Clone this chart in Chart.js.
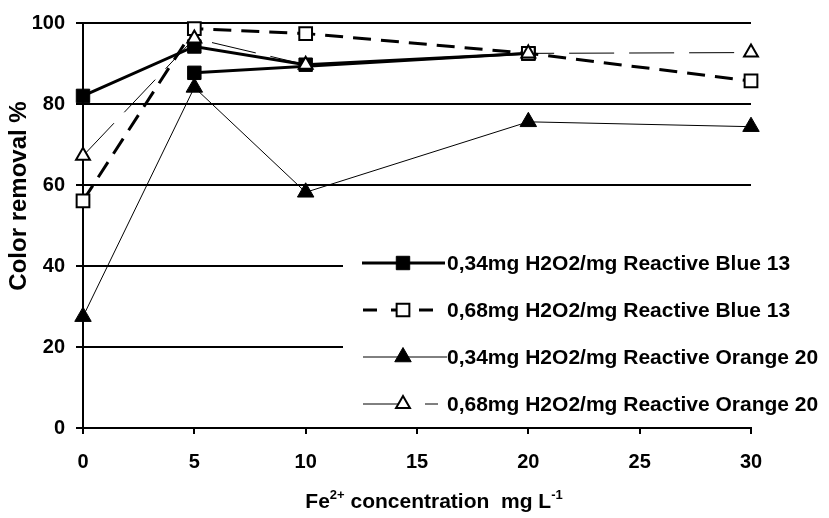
<!DOCTYPE html>
<html><head><meta charset="utf-8">
<script src="https://cdn.jsdelivr.net/npm/chart.js@4/dist/chart.umd.min.js"></script>
<style>html,body{margin:0;padding:0;background:#fff;}#wrap{width:829px;height:518px;}</style>
</head><body><div id="wrap"><canvas id="c" width="829" height="518"></canvas></div>
<script>
// ---- data ----
const xValues = [0, 5, 10, 20, 30];
const blue034 = [82.0, 94.2, 89.7, 92.5, null];
const blue034Second = [null, 87.7, null, 92.5, null];
const blue068 = [56.1, 98.6, 97.4, 92.5, 85.7];
const orange034 = [27.5, 84.1, 58.2, 75.6, 74.4];
const orange068 = [67.2, 96.2, 89.7, 92.5, 92.7];
const seriesLabels = [
  '0,34mg H2O2/mg Reactive Blue 13',
  '0,68mg H2O2/mg Reactive Blue 13',
  '0,34mg H2O2/mg Reactive Orange 20',
  '0,68mg H2O2/mg Reactive Orange 20'
];
const xTicks = [0, 5, 10, 15, 20, 25, 30];
const yTicks = [0, 20, 40, 60, 80, 100];
const xTitleParts = [['Fe', false], ['2+', true], [' concentration  mg L', false], ['-1', true]];
const yTitle = 'Color removal %';

const FONT = "'Liberation Sans', Arial, sans-serif";
function pts(arr) { return xValues.map((x, i) => ({x: x, y: arr[i]})).filter(p => p.y !== null); }

const styles = [
  {borderWidth: 3, borderDash: [], pointStyle: 'rect', pointRadius: 9.5, fill: '#000', pbw: 1, legendDash: []},
  {borderWidth: 3, borderDash: [18, 10], pointStyle: 'rect', pointRadius: 9, fill: '#fff', pbw: 2, legendDash: [14, 14]},
  {borderWidth: 1, borderDash: [], pointStyle: 'triangle', pointRadius: 9.5, fill: '#000', pbw: 1, legendDash: []},
  {borderWidth: 1, borderDash: [45, 15], pointStyle: 'triangle', pointRadius: 8, fill: '#fff', pbw: 2, legendDash: [37, 25]}
];
function ds(label, arr, st, order) {
  return {
    label: label, data: pts(arr), showLine: true, tension: 0, spanGaps: true, clip: false,
    borderColor: '#000', borderWidth: st.borderWidth, borderDash: st.borderDash,
    pointStyle: st.pointStyle, pointRadius: st.pointRadius, pointHoverRadius: st.pointRadius,
    pointBackgroundColor: st.fill, pointBorderColor: '#000', pointBorderWidth: st.pbw,
    order: order
  };
}
const datasets = [
  ds(seriesLabels[0], blue034, styles[0], 5),
  ds('', blue034Second, styles[0], 5),
  ds(seriesLabels[1], blue068, styles[1], 3),
  ds(seriesLabels[2], orange034, styles[2], 2),
  ds(seriesLabels[3], orange068, styles[3], 1)
];

function marker(ctx, st, x, y) {
  ctx.save();
  ctx.setLineDash([]);
  ctx.fillStyle = st.fill; ctx.strokeStyle = '#000'; ctx.lineWidth = st.pbw;
  ctx.beginPath();
  const r = st.pointRadius;
  if (st.pointStyle === 'rect') {
    const s = Math.SQRT1_2 * r;
    ctx.rect(x - s, y - s, 2 * s, 2 * s);
  } else {
    let a = 0;
    ctx.moveTo(x + Math.sin(a) * r, y - Math.cos(a) * r);
    a += 2 * Math.PI / 3; ctx.lineTo(x + Math.sin(a) * r, y - Math.cos(a) * r);
    a += 2 * Math.PI / 3; ctx.lineTo(x + Math.sin(a) * r, y - Math.cos(a) * r);
    ctx.closePath();
  }
  ctx.fill(); ctx.stroke();
  ctx.restore();
}

const decor = {
  id: 'decor',
  afterDraw(chart) {
    const ctx = chart.ctx;
    ctx.save();
    ctx.fillStyle = '#fff';
    ctx.fillRect(343, 238, 486, 182);
    const segs = [[362, 445], [363, 437], [363, 447], [363, 438]];
    for (let i = 0; i < 4; i++) {
      const y = 263 + i * 47;
      const st = styles[i];
      ctx.save();
      ctx.strokeStyle = '#000'; ctx.lineWidth = st.borderWidth;
      ctx.setLineDash(st.legendDash);
      ctx.beginPath(); ctx.moveTo(segs[i][0], y); ctx.lineTo(segs[i][1], y); ctx.stroke();
      ctx.restore();
      marker(ctx, st, 403, y);
      ctx.fillStyle = '#000';
      ctx.font = 'bold 21px ' + FONT;
      ctx.textAlign = 'left'; ctx.textBaseline = 'middle';
      ctx.fillText(seriesLabels[i], 447, y + 1);
    }
    const big = 'bold 21px ' + FONT, small = 'bold 13px ' + FONT;
    let total = 0;
    xTitleParts.forEach(p => { ctx.font = p[1] ? small : big; total += ctx.measureText(p[0]).width; });
    let x = 434 - total / 2;
    ctx.textAlign = 'left'; ctx.textBaseline = 'alphabetic';
    xTitleParts.forEach(p => {
      ctx.font = p[1] ? small : big;
      ctx.fillText(p[0], x, p[1] ? 499 : 508);
      x += ctx.measureText(p[0]).width;
    });
    ctx.translate(19, 196);
    ctx.rotate(-Math.PI / 2);
    ctx.font = 'bold 24px ' + FONT;
    ctx.textAlign = 'center'; ctx.textBaseline = 'middle';
    ctx.fillText(yTitle, 0, 0);
    ctx.restore();
  }
};

new Chart(document.getElementById('c'), {
  type: 'line',
  data: {datasets: datasets},
  options: {
    responsive: false, animation: false, devicePixelRatio: 1,
    layout: {padding: {top: 16, right: 78, bottom: 0, left: 0}},
    plugins: {legend: {display: false}, tooltip: {enabled: false}, title: {display: false}},
    scales: {
      x: {
        type: 'linear', min: xTicks[0], max: xTicks[xTicks.length - 1],
        afterBuildTicks: s => { s.ticks = xTicks.map(v => ({value: v})); },
        afterFit: s => { s.height = 90; },
        ticks: {color: '#000', font: {family: FONT, size: 20, weight: 'bold'}, padding: 16, maxRotation: 0},
        grid: {drawOnChartArea: false, drawTicks: true, tickLength: 6, color: '#000', lineWidth: 2},
        border: {display: true, color: '#000', width: 2}
      },
      y: {
        min: yTicks[0], max: yTicks[yTicks.length - 1],
        afterBuildTicks: s => { s.ticks = yTicks.map(v => ({value: v})); },
        afterFit: s => { s.width = 83; },
        ticks: {color: '#000', font: {family: FONT, size: 20, weight: 'bold'}, padding: 11},
        grid: {drawOnChartArea: true, drawTicks: true, tickLength: 7, color: '#000', lineWidth: 2},
        border: {display: true, color: '#000', width: 2}
      }
    }
  },
  plugins: [decor]
});
</script></body></html>
